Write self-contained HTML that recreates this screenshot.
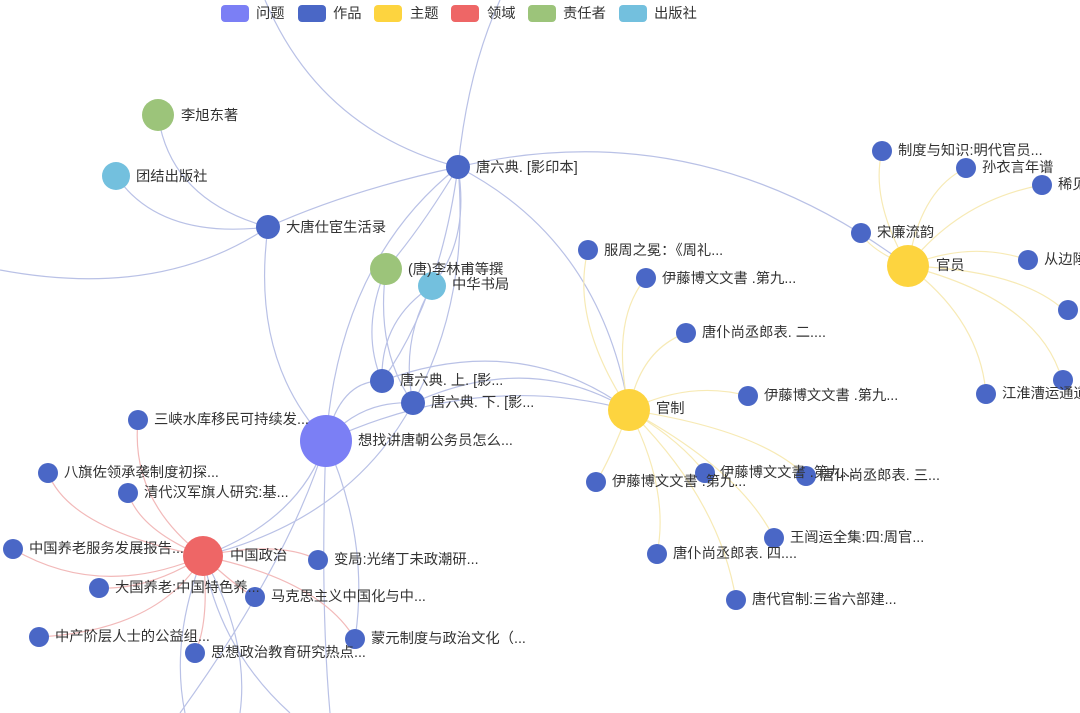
<!DOCTYPE html>
<html><head><meta charset="utf-8"><style>
html,body{margin:0;padding:0;background:#fff;}
svg{display:block;font-family:"Liberation Sans","Noto Sans CJK SC",sans-serif;}
text{font-size:14.3px;fill:#333;}
.b{fill:none;stroke:#b9c1e6;stroke-width:1.2}
.y{fill:none;stroke:#f7eab5;stroke-width:1.2}
.r{fill:none;stroke:#f2b9b9;stroke-width:1.2}
</style></head><body>
<svg width="1080" height="713" viewBox="0 0 1080 713">
<path class="b" d="M265,0 Q320,130 458,167"/>
<path class="b" d="M500,0 Q468,70 458,167"/>
<path class="b" d="M458,167 Q350,190 268,227"/>
<path class="b" d="M458,167 Q700,110 908,266"/>
<path class="b" d="M458,167 Q600,240 629,410"/>
<path class="b" d="M458,167 Q420,230 386,269"/>
<path class="b" d="M458,167 Q470,240 432,286"/>
<path class="b" d="M458,167 Q440,300 382,381"/>
<path class="b" d="M458,167 Q470,300 413,403"/>
<path class="b" d="M458,167 Q340,260 326,441"/>
<path class="b" d="M268,227 Q170,200 158,115"/>
<path class="b" d="M268,227 Q160,240 116,176"/>
<path class="b" d="M268,227 Q160,300 0,270"/>
<path class="b" d="M268,227 Q250,360 326,441"/>
<path class="b" d="M386,269 Q360,330 382,381"/>
<path class="b" d="M386,269 Q375,350 413,403"/>
<path class="b" d="M432,286 Q380,320 382,381"/>
<path class="b" d="M432,286 Q400,340 413,403"/>
<path class="b" d="M382,381 Q520,330 629,410"/>
<path class="b" d="M413,403 Q530,350 629,410"/>
<path class="b" d="M326,441 Q480,370 629,410"/>
<path class="b" d="M326,441 Q340,380 382,381"/>
<path class="b" d="M326,441 Q360,400 413,403"/>
<path class="b" d="M326,441 Q300,520 203,556"/>
<path class="b" d="M413,403 Q350,520 203,556"/>
<path class="b" d="M326,441 Q370,540 355,639"/>
<path class="b" d="M326,441 Q320,600 330,713"/>
<path class="b" d="M326,441 Q290,560 180,713"/>
<path class="b" d="M203,556 Q170,640 185,713"/>
<path class="b" d="M203,556 Q220,650 290,713"/>
<path class="b" d="M203,556 Q250,640 240,713"/>
<path class="y" d="M629,410 Q570,320 588,250"/>
<path class="y" d="M629,410 Q610,320 646,278"/>
<path class="y" d="M629,410 Q640,350 686,333"/>
<path class="y" d="M629,410 Q690,380 748,396"/>
<path class="y" d="M629,410 Q610,460 596,482"/>
<path class="y" d="M629,410 Q680,440 705,473"/>
<path class="y" d="M629,410 Q760,430 806,476"/>
<path class="y" d="M629,410 Q740,470 774,538"/>
<path class="y" d="M629,410 Q670,490 657,554"/>
<path class="y" d="M629,410 Q720,500 736,600"/>
<path class="y" d="M908,266 Q870,250 861,233"/>
<path class="y" d="M908,266 Q870,200 882,151"/>
<path class="y" d="M908,266 Q920,190 966,168"/>
<path class="y" d="M908,266 Q960,200 1042,185"/>
<path class="y" d="M908,266 Q970,240 1028,260"/>
<path class="y" d="M908,266 Q1020,270 1064,310"/>
<path class="y" d="M908,266 Q1040,300 1062,380"/>
<path class="y" d="M908,266 Q980,320 986,394"/>
<path class="r" d="M203,556 Q130,500 138,420"/>
<path class="r" d="M203,556 Q70,530 48,473"/>
<path class="r" d="M203,556 Q140,530 128,493"/>
<path class="r" d="M203,556 Q100,600 13,549"/>
<path class="r" d="M203,556 Q150,590 99,588"/>
<path class="r" d="M203,556 Q240,590 255,597"/>
<path class="r" d="M203,556 Q280,540 318,560"/>
<path class="r" d="M203,556 Q160,630 39,637"/>
<path class="r" d="M203,556 Q210,620 195,653"/>
<path class="r" d="M203,556 Q320,580 355,639"/>
<rect x="221" y="5" width="28" height="17" rx="4" fill="#7b7ff5"/><text x="256" y="18">问题</text>
<rect x="298" y="5" width="28" height="17" rx="4" fill="#4a67c6"/><text x="333" y="18">作品</text>
<rect x="374" y="5" width="28" height="17" rx="4" fill="#fdd43f"/><text x="410" y="18">主题</text>
<rect x="451" y="5" width="28" height="17" rx="4" fill="#ee6666"/><text x="487" y="18">领域</text>
<rect x="528" y="5" width="28" height="17" rx="4" fill="#9cc47a"/><text x="563" y="18">责任者</text>
<rect x="619" y="5" width="28" height="17" rx="4" fill="#73c0de"/><text x="654" y="18">出版社</text>
<g fill="#9cc47a"><circle cx="158" cy="115" r="16"/><circle cx="386" cy="269" r="16"/></g>
<g fill="#73c0de"><circle cx="116" cy="176" r="14"/><circle cx="432" cy="286" r="14"/></g>
<circle cx="326" cy="441" r="26" fill="#7b7ff5"/>
<g fill="#fdd43f"><circle cx="629" cy="410" r="21"/><circle cx="908" cy="266" r="21"/></g>
<circle cx="203" cy="556" r="20" fill="#ee6666"/>
<g fill="#4a67c6">
<circle cx="268" cy="227" r="12"/><circle cx="458" cy="167" r="12"/>
<circle cx="382" cy="381" r="12"/><circle cx="413" cy="403" r="12"/>
<circle cx="861" cy="233" r="10"/><circle cx="882" cy="151" r="10"/><circle cx="966" cy="168" r="10"/>
<circle cx="1042" cy="185" r="10"/><circle cx="1028" cy="260" r="10"/><circle cx="1068" cy="310" r="10"/>
<circle cx="1063" cy="380" r="10"/><circle cx="986" cy="394" r="10"/>
<circle cx="588" cy="250" r="10"/><circle cx="646" cy="278" r="10"/><circle cx="686" cy="333" r="10"/>
<circle cx="748" cy="396" r="10"/><circle cx="596" cy="482" r="10"/><circle cx="705" cy="473" r="10"/>
<circle cx="806" cy="476" r="10"/><circle cx="774" cy="538" r="10"/><circle cx="657" cy="554" r="10"/>
<circle cx="736" cy="600" r="10"/>
<circle cx="138" cy="420" r="10"/><circle cx="48" cy="473" r="10"/><circle cx="128" cy="493" r="10"/>
<circle cx="13" cy="549" r="10"/><circle cx="99" cy="588" r="10"/><circle cx="255" cy="597" r="10"/>
<circle cx="318" cy="560" r="10"/><circle cx="39" cy="637" r="10"/><circle cx="195" cy="653" r="10"/>
<circle cx="355" cy="639" r="10"/>
</g>
<text x="181" y="120">李旭东著</text>
<text x="136" y="181">团结出版社</text>
<text x="286" y="232">大唐仕宦生活录</text>
<text x="476" y="172">唐六典. [影印本]</text>
<text x="408" y="274">(唐)李林甫等撰</text>
<text x="452" y="289">中华书局</text>
<text x="400" y="385">唐六典. 上. [影...</text>
<text x="431" y="407">唐六典. 下. [影...</text>
<text x="358" y="445">想找讲唐朝公务员怎么...</text>
<text x="656" y="413">官制</text>
<text x="936" y="270">官员</text>
<text x="877" y="237">宋廉流韵</text>
<text x="898" y="155">制度与知识:明代官员...</text>
<text x="982" y="172">孙衣言年谱</text>
<text x="1058" y="189">稀见</text>
<text x="1044" y="264">从边陲</text>
<text x="1002" y="398">江淮漕运通道</text>
<text x="604" y="255">服周之冕：《周礼...</text>
<text x="662" y="283">伊藤博文文書 .第九...</text>
<text x="702" y="337">唐仆尚丞郎表. 二....</text>
<text x="764" y="400">伊藤博文文書 .第九...</text>
<text x="612" y="486">伊藤博文文書 .第九...</text>
<text x="720" y="477">伊藤博文文書 .第九...</text>
<text x="820" y="480">唐仆尚丞郎表. 三...</text>
<text x="790" y="542">王闿运全集:四:周官...</text>
<text x="673" y="558">唐仆尚丞郎表. 四....</text>
<text x="752" y="604">唐代官制:三省六部建...</text>
<text x="230" y="560">中国政治</text>
<text x="154" y="424">三峡水库移民可持续发...</text>
<text x="64" y="477">八旗佐领承袭制度初探...</text>
<text x="144" y="497">清代汉军旗人研究:基...</text>
<text x="29" y="553">中国养老服务发展报告...</text>
<text x="115" y="592">大国养老:中国特色养...</text>
<text x="271" y="601">马克思主义中国化与中...</text>
<text x="334" y="564">变局:光绪丁未政潮研...</text>
<text x="55" y="641">中产阶层人士的公益组...</text>
<text x="211" y="657">思想政治教育研究热点...</text>
<text x="371" y="643">蒙元制度与政治文化（...</text>
</svg>
</body></html>
